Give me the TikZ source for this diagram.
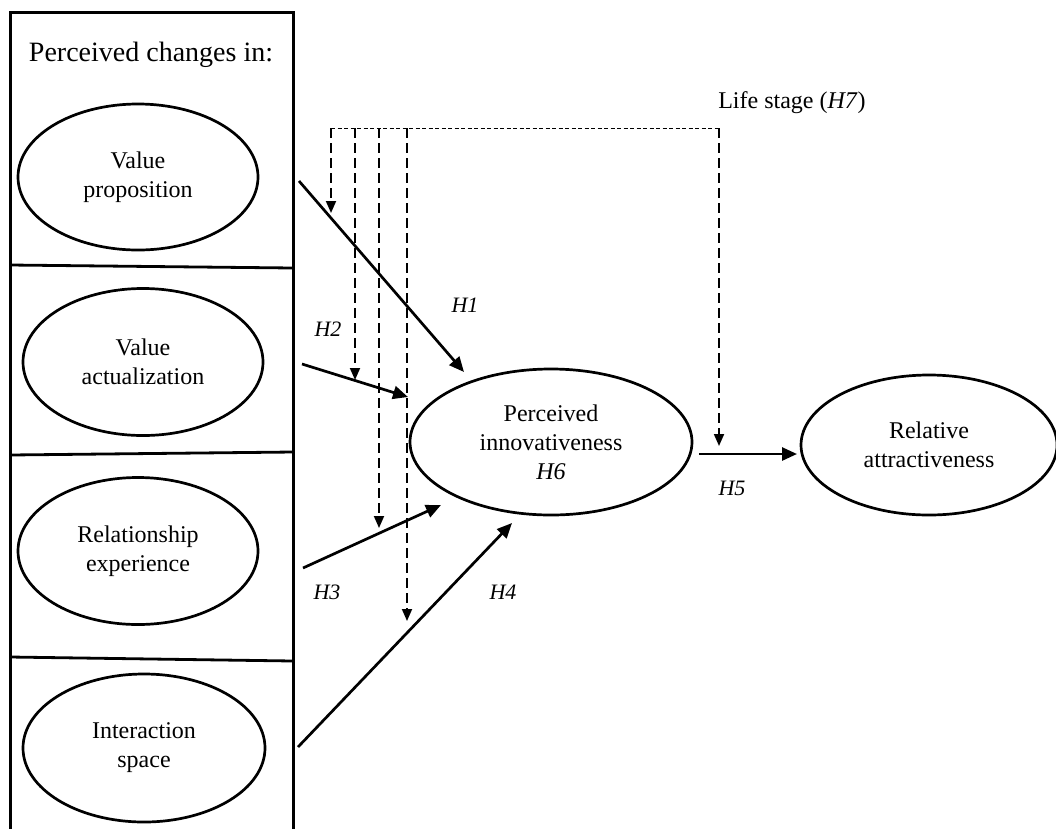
\documentclass[tikz,border=0pt]{standalone}
\usepackage{fontspec}
\setmainfont{Liberation Serif}
\usetikzlibrary{arrows.meta,shapes.geometric}
\tikzset{
  latent/.style={ellipse,draw,line width=2.7pt,inner sep=0pt,align=center,
    font=\fontsize{24}{29}\selectfont},
  frameline/.style={line width=3pt},
  hyparrow/.style={line width=2.7pt,-{Triangle[length=15pt,width=13pt]}},
  modarrow/.style={line width=1.8pt,dash pattern=on 10pt off 5pt,-{Triangle[length=12pt,width=10pt]}},
  modline/.style={line width=1pt,dash pattern=on 4pt off 2.5pt},
  hlabel/.style={font=\fontsize{22}{26}\selectfont\itshape,inner sep=0pt},
}
\begin{document}
\begin{tikzpicture}[x=1pt,y=-1pt]
\useasboundingbox (0,0) rectangle (1056,828);
% left frame
\draw[frameline] (10,830) -- (10,12) -- (293,12) -- (293,830);
\draw[line width=2.8pt] (10,265) -- (293,268);
\draw[line width=2.8pt] (10,455) -- (293,452);
\draw[line width=2.8pt] (10,657) -- (293,661);
\node[font=\fontsize{28}{32}\selectfont,inner sep=0pt] (head) at (151,55) {Perceived changes in:};
% ellipses
\node[latent,minimum width=240pt,minimum height=146pt] (vp) at (138,177) {Value\\proposition};
\node[latent,minimum width=240pt,minimum height=147pt] (va) at (143,362) {Value\\actualization};
\node[latent,minimum width=240pt,minimum height=147pt] (re) at (138,551) {Relationship\\experience};
\node[latent,minimum width=242pt,minimum height=148pt] (is) at (144,748) {Interaction\\space};
\node[latent,minimum width=282pt,minimum height=146pt] (pi) at (551,442) {Perceived\\innovativeness\\\textit{H6}};
\node[latent,minimum width=256pt,minimum height=140pt] (ra) at (929,445) {Relative\\attractiveness};
% connector end points
\coordinate (h1s) at (299,181); \coordinate (h1e) at (464,372);
\coordinate (h2s) at (302,364); \coordinate (h2e) at (408,397);
\coordinate (h3s) at (303,568); \coordinate (h3e) at (441,505);
\coordinate (h4s) at (298,747); \coordinate (h4e) at (512,523);
\coordinate (h5s) at (699,454); \coordinate (h5e) at (797,454);
% hypotheses arrows
\draw[hyparrow] (h1s) -- (h1e);
\draw[hyparrow] (h2s) -- (h2e);
\draw[hyparrow] (h3s) -- (h3e);
\draw[hyparrow] (h4s) -- (h4e);
\draw[hyparrow] (h5s) -- (h5e);
% life stage moderator
\node[font=\fontsize{24}{28}\selectfont,inner sep=0pt] (ls) at (792,103) {Life stage (\textit{H7})};
\coordinate (m0) at (331,128);
\coordinate (m1) at (355,128);
\coordinate (m2) at (379,128);
\coordinate (m3) at (407,128);
\coordinate (m4) at (719,128);
\coordinate (t0) at (331,213);
\coordinate (t1) at (355,380);
\coordinate (t2) at (379,528);
\coordinate (t3) at (407,621);
\coordinate (t4) at (719,446);
\draw[modline] (m0) -- (m4);
\draw[modarrow] (m0) -- (t0);
\draw[modarrow] (m1) -- (t1);
\draw[modarrow] (m2) -- (t2);
\draw[modarrow] (m3) -- (t3);
\draw[modarrow] (m4) -- (t4);
% labels
\node[hlabel] (l1) at (465,305) {H1};
\node[hlabel] (l2) at (328,329) {H2};
\node[hlabel] (l3) at (327,592) {H3};
\node[hlabel] (l4) at (503,592) {H4};
\node[hlabel] (l5) at (732,488) {H5};
\end{tikzpicture}
\end{document}
